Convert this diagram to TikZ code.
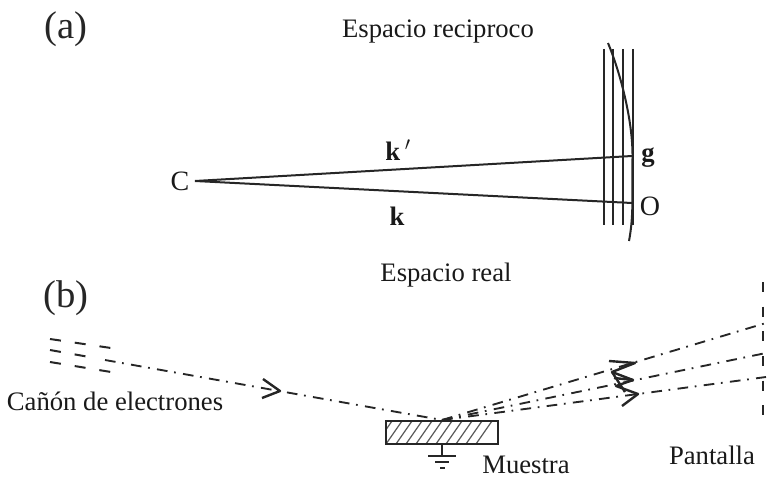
\documentclass[tikz,border=0pt]{standalone}
\usepackage{fontspec}
\setmainfont{Liberation Serif}
\tikzset{
  lbl/.style={inner sep=0pt,font=\fontsize{20pt}{22pt}\selectfont,text=black!90},
  big/.style={inner sep=0pt,font=\fontsize{29pt}{32pt}\selectfont,text=black!85},
  ltr/.style={inner sep=0pt,font=\fontsize{21pt}{23pt}\selectfont,text=black!90},
  sym/.style={inner sep=0pt,font=\fontsize{20pt}{22pt}\selectfont\bfseries,text=black!90},
  thin line/.style={line width=1.5pt,black!85},
  beam/.style={line width=1.4pt,black!85,dash pattern=on 8pt off 5pt on 1.3pt off 5.5pt},
  gun/.style={line width=1.5pt,black!85,dash pattern=on 8.25pt off 10.5pt},
  chev/.style={line width=1.8pt,black!85,line join=round},
  hatch/.style={line width=0.9pt,black!65}
}
\begin{document}
\begin{tikzpicture}[x=0.75pt,y=-0.75pt]
\useasboundingbox (0,0) rectangle (767,478);
% labels
\node[big] (a) at (66,29) {(a)};
\node[big] (b) at (66,298) {(b)};
\node[lbl] (t1) at (438,32) {Espacio reciproco};
\node[lbl] (t2) at (446,275) {Espacio real};
\node[lbl] (t3) at (115,401) {Cañón de electrones};
\node[lbl] (t4) at (526,465) {Muestra};
\node[lbl] (t5) at (712,455) {Pantalla};
\node[ltr] (C) at (180,181) {C};
\node[ltr] (O) at (650,206) {O};
\node[sym] (g) at (648,158) {g};
\node[sym] (kp) at (398,150) {k$\,'$};
\node[sym] (k) at (397,216) {k};
% part (a)
\coordinate (c0) at (195,181);
\coordinate (gp) at (632,156);
\coordinate (op) at (632,203);
\draw[thin line] (c0) -- (gp);
\draw[thin line] (c0) -- (op);
\foreach \x in {604,613,622.5,632.5}
  \draw[thin line] (\x,49) -- (\x,225);
\draw[thin line] (608,43) .. controls (620,72) and (633,120) .. (632.5,158)
   .. controls (632,190) and (634,215) .. (629,241);
% part (b): sample
\begin{scope}
  \clip (386,421) rectangle (498,444);
  \foreach \x in {376,386,...,476}
    \draw[hatch] (\x,444) -- (\x+16,421);
\end{scope}
\draw[line width=1.6pt,black!85] (386,421) rectangle (498,444);
\coordinate (hit) at (442,420);
\coordinate (gnd) at (442,444);
\draw[thin line] (gnd) -- (442,456);
\draw[thin line] (428,456) -- (456,456);
\draw[thin line] (435,462) -- (449,462);
\draw[thin line] (440,468) -- (445,468);
% incident beam
\coordinate (g1) at (50,339); \coordinate (g1e) at (111,348);
\coordinate (g2) at (50,350);
\coordinate (g3) at (50,362); \coordinate (g3e) at (111,372);
\draw[gun] (g1) -- (g1e);
\draw[gun] (g3) -- (g3e);
\draw[gun] (g2) -- (87,356.6);
\draw[beam] (105,360) -- (hit);
\draw[chev] (263,379) -- (280,391) -- (262,398);
% reflected beams
\coordinate (s1) at (766,323);
\coordinate (s2) at (766,353);
\coordinate (s3) at (766,377);
\draw[beam] (hit) -- (s1);
\draw[beam] (hit) -- (s2);
\draw[beam] (hit) -- (s3);
\draw[chev] (609,361) -- (635,363) -- (612,372) -- (633,380) -- (616,386) -- (638,394) -- (622,406);
\draw[chev] (614,378) -- (633,380);
\draw[chev] (612,372) -- (625,392);
% screen
\draw[line width=1.6pt,black!85,dash pattern=on 7.5pt off 11pt] (763,282) -- (763,430);
\end{tikzpicture}
\end{document}
